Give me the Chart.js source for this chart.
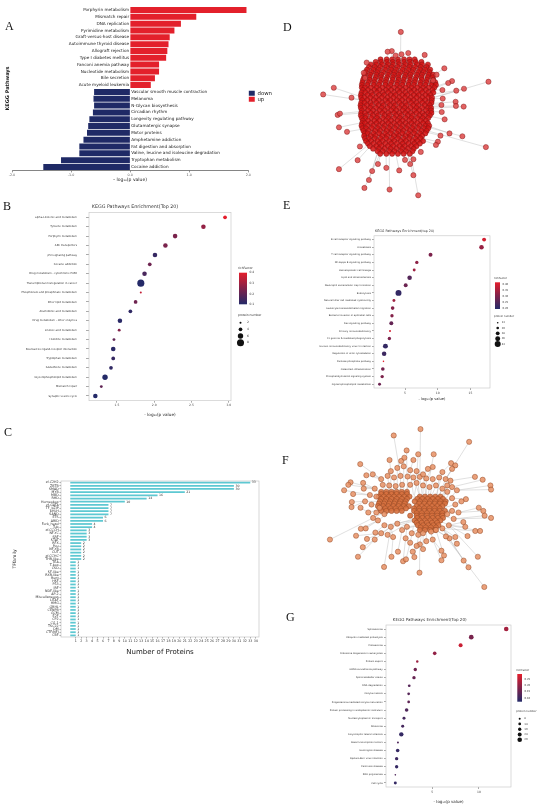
<!DOCTYPE html>
<html>
<head>
<meta charset="utf-8">
<title>KEGG / TF / PPI figure</title>
<script src="https://cdn.jsdelivr.net/npm/chart.js@4.4.1/dist/chart.umd.min.js"></script>
<style>
  body { margin: 0; background: #fff; }
  #page { position: relative; width: 550px; height: 808px; overflow: hidden; background: #fff; }
  canvas { position: absolute; }
  .letter { position: absolute; font-family: "Liberation Serif", "DejaVu Serif", serif; font-size: 12px; line-height: 12px; color: #111; }
</style>
</head>
<body>
<div id="page">
  <canvas id="chartA" width="282" height="186" style="left:0;top:0"></canvas>
  <canvas id="chartB" width="275" height="222" style="left:0;top:200px"></canvas>
  <canvas id="chartC" width="275" height="190" style="left:0;top:470px"></canvas>
  <canvas id="chartD" width="270" height="210" style="left:280px;top:0"></canvas>
  <canvas id="chartE" width="270" height="185" style="left:280px;top:222px"></canvas>
  <canvas id="chartF" width="270" height="200" style="left:280px;top:395px"></canvas>
  <canvas id="chartG" width="270" height="200" style="left:280px;top:608px"></canvas>
  <div class="letter" style="left:5px;top:20px">A</div>
  <div class="letter" style="left:3px;top:200px">B</div>
  <div class="letter" style="left:4px;top:426px">C</div>
  <div class="letter" style="left:283px;top:21px">D</div>
  <div class="letter" style="left:283px;top:199px">E</div>
  <div class="letter" style="left:282px;top:454px">F</div>
  <div class="letter" style="left:286px;top:611px">G</div>
</div>
<script>
// ---------- Datos panel A (up / down) ----------
const aLabels = ["Porphyrin metabolism", "Mismatch repair", "DNA replication", "Pyrimidine metabolism",
  "Graft-versus-host disease", "Autoimmune thyroid disease", "Allograft rejection", "Type I diabetes mellitus",
  "Fanconi anemia pathway", "Nucleotide metabolism", "Bile secretion", "Acute myeloid leukemia",
  "Vascular smooth muscle contraction", "Melanoma", "N-Glycan biosynthesis", "Circadian rhythm",
  "Longevity regulating pathway", "Glutamatergic synapse", "Motor proteins", "Amphetamine addiction",
  "Fat digestion and absorption", "Valine, leucine and isoleucine degradation", "Tryptophan metabolism", "Cocaine addiction"];
const aValues = [1.97, 1.12, 0.86, 0.75, 0.67, 0.65, 0.63, 0.61, 0.49, 0.49, 0.42, 0.35,
  -0.61, -0.62, -0.61, -0.63, -0.69, -0.71, -0.73, -0.79, -0.86, -0.86, -1.17, -1.47];
const aTicks = [-2, -1, 0, 1, 2];

// ---------- Datos panel B ----------
const bLabels = ["alpha-Linolenic acid metabolism", "Tyrosine metabolism", "Porphyrin metabolism", "ABC transporters",
  "p53 signaling pathway", "Cocaine addiction", "Drug metabolism - cytochrome P450", "Transcriptional misregulation in cancer",
  "Phosphonate and phosphinate metabolism", "Ether lipid metabolism", "Arachidonic acid metabolism", "Drug metabolism - other enzymes",
  "Linoleic acid metabolism", "Histidine metabolism", "Neuroactive ligand-receptor interaction", "Tryptophan metabolism",
  "Glutathione metabolism", "Glycerophospholipid metabolism", "Mismatch repair", "Synaptic vesicle cycle"];
const bLogP = [2.95, 2.66, 2.28, 2.15, 2.01, 1.94, 1.87, 1.82, 1.82, 1.75, 1.68, 1.54, 1.53, 1.46, 1.45, 1.45, 1.42, 1.34, 1.29, 1.21];
const bRich = [0.40, 0.28, 0.24, 0.24, 0.13, 0.22, 0.16, 0.10, 0.35, 0.22, 0.12, 0.11, 0.25, 0.20, 0.11, 0.13, 0.12, 0.10, 0.20, 0.10];
const bCount = [4, 5, 5, 5, 5, 4, 5, 8, 2, 4, 4, 5, 3, 3, 5, 4, 4, 6, 3, 5];
const bTicks = [1.5, 2.0, 2.5, 3.0];
const bRichTicks = [0.1, 0.2, 0.3, 0.4];
const bSizeTicks = [2, 4, 6, 8];

// ---------- Datos panel C ----------
const cLabels = ["zf-C2H2", "ZBTB", "SMAD", "MYB", "MBD", "RHD", "Homeobox", "zf-GATA", "TF_bZIP", "bHLH", "SAND", "ETS",
  "ARID", "Fork_head", "Tub", "zf-CCCH", "NF-YC", "SRF", "STAT", "RFX", "Pou", "NF-YB", "CUT", "zf-CCHC", "THR-like",
  "TEA", "T-box", "CSD", "SF-like", "RXR-like", "Runt", "HSF", "P53", "IRF", "NDF-like", "AP-2", "Miscellaneous",
  "LITAF", "HMG", "GRHL", "CENPB", "GCM", "E2F", "CP2", "CG-1", "TSC22", "DM", "CTF/NFI", "CBF"];
const cCounts = [33, 30, 30, 21, 16, 14, 10, 7, 7, 7, 7, 6, 6, 4, 4, 3, 3, 3, 3, 2, 2, 2, 2, 2, 2,
  1, 1, 1, 1, 1, 1, 1, 1, 1, 1, 1, 1, 1, 1, 1, 1, 1, 1, 1, 1, 1, 1, 1, 1];
const cTicks = [1, 2, 3, 4, 5, 6, 7, 8, 9, 10, 11, 12, 13, 14, 15, 16, 17, 18, 19, 20, 21, 22, 23, 24, 25,
  26, 27, 28, 29, 30, 31, 32, 33, 34];

// ---------- Datos panel E ----------
const eLabels = ["B cell receptor signaling pathway", "Amoebiasis", "T cell receptor signaling pathway", "NF-kappa B signaling pathway",
  "Hematopoietic cell lineage", "Lipid and atherosclerosis", "Neutrophil extracellular trap formation", "Endocytosis",
  "Natural killer cell mediated cytotoxicity", "Leukocyte transendothelial migration", "Bacterial invasion of epithelial cells",
  "Ras signaling pathway", "Primary immunodeficiency", "Fc gamma R-mediated phagocytosis", "Human immunodeficiency virus 1 infection",
  "Regulation of actin cytoskeleton", "Pentose phosphate pathway", "Osteoclast differentiation", "Phosphatidylinositol signaling system",
  "Glycerophospholipid metabolism"];
const eLogP = [17.1, 16.7, 8.9, 6.8, 6.4, 5.7, 5.1, 4.0, 3.3, 3.1, 3.0, 2.9, 2.7, 2.6, 2.0, 1.8, 1.7, 1.6, 1.5, 1.1];
const eRich = [0.40, 0.33, 0.30, 0.32, 0.34, 0.25, 0.28, 0.21, 0.34, 0.31, 0.31, 0.27, 0.40, 0.30, 0.21, 0.22, 0.42, 0.29, 0.30, 0.28];
const eCount = [29, 33, 29, 25, 22, 33, 29, 43, 22, 27, 25, 29, 16, 25, 36, 33, 13, 27, 25, 22];
const eTicks = [5, 10, 15];
const eRichTicks = [0.20, 0.25, 0.30, 0.35, 0.40];
const eSizeTicks = [13, 20, 28, 36, 43];

// ---------- Datos panel G ----------
const gLabels = ["Spliceosome", "Ubiquitin mediated proteolysis", "Proteasome", "Ribosome biogenesis in eukaryotes",
  "Protein export", "mRNA surveillance pathway", "Spinocerebellar ataxia", "RNA degradation", "Oocyte meiosis",
  "Progesterone-mediated oocyte maturation", "Protein processing in endoplasmic reticulum", "Nucleocytoplasmic transport",
  "Ribosome", "Amyotrophic lateral sclerosis", "Basal transcription factors", "Huntington disease",
  "Epstein-Barr virus infection", "Parkinson disease", "RNA polymerase", "Cell cycle"];
const gLogP = [12.93, 9.18, 8.04, 5.26, 3.39, 3.18, 3.04, 2.53, 2.47, 2.47, 2.25, 1.97, 1.83, 1.68, 1.32, 1.29, 1.18, 1.18, 1.04, 1.04];
const gRich = [0.22, 0.17, 0.26, 0.20, 0.21, 0.16, 0.15, 0.13, 0.13, 0.14, 0.12, 0.11, 0.11, 0.09, 0.12, 0.09, 0.10, 0.09, 0.12, 0.09];
const gCount = [29, 30, 24, 21, 12, 19, 19, 14, 14, 14, 21, 16, 16, 27, 8, 21, 19, 19, 5, 16];
const gTicks = [5, 10];
const gRichTicks = [0.10, 0.15, 0.20, 0.25];
const gSizeTicks = [8, 14, 19, 24, 29];

// ---------- Redes D y F (coordenadas) ----------
// nodos del nucleo por filas: [y, [x...]]
const dCoreRows = [
  [172, [298, 317, 334, 352, 371, 388, 404]],
  [180, [283, 300, 318, 336, 353, 371, 389, 407, 425]],
  [188, [268, 285, 303, 321, 337, 356, 375, 391, 411, 427, 445]],
  [196, [262, 280, 297, 316, 333, 351, 370, 388, 405, 423, 441]],
  [204, [256, 276, 292, 312, 330, 346, 366, 384, 400, 420, 436, 452]],
  [212, [252, 270, 288, 306, 325, 342, 360, 378, 396, 415, 432, 450]],
  [220, [249, 266, 285, 301, 321, 339, 355, 375, 391, 411, 427, 447, 461]],
  [228, [247, 264, 283, 299, 318, 336, 353, 372, 389, 408, 425, 444, 460]],
  [236, [244, 264, 280, 300, 316, 336, 354, 370, 390, 406, 426, 442, 462]],
  [244, [242, 260, 278, 296, 314, 332, 350, 368, 386, 404, 422, 440, 458, 468]],
  [252, [240, 257, 277, 293, 313, 329, 349, 365, 385, 401, 421, 437, 457, 470]],
  [260, [240, 250, 268, 286, 304, 322, 340, 358, 376, 394, 412, 430, 448, 465]],
  [268, [243, 259, 279, 295, 315, 331, 351, 367, 387, 403, 423, 439, 459]],
  [276, [239, 251, 269, 287, 305, 322, 340, 357, 375, 393, 411, 428, 446, 462]],
  [284, [237, 257, 273, 293, 309, 329, 345, 365, 381, 401, 417, 437, 453]],
  [292, [238, 248, 266, 284, 302, 320, 338, 356, 374, 392, 410, 428, 446, 458]],
  [300, [241, 257, 277, 293, 313, 329, 349, 365, 385, 401, 421, 437, 457]],
  [308, [238, 249, 267, 285, 303, 321, 339, 357, 375, 393, 410, 428, 445, 456]],
  [316, [236, 255, 271, 291, 307, 327, 343, 363, 379, 399, 415, 435, 451]],
  [324, [237, 248, 266, 284, 302, 320, 338, 356, 373, 391, 409, 427, 445, 455]],
  [332, [240, 259, 275, 295, 311, 331, 347, 367, 383, 403, 419, 439, 455]],
  [340, [238, 250, 268, 286, 304, 322, 340, 357, 375, 392, 410, 428, 446, 456]],
  [348, [237, 254, 274, 290, 310, 326, 346, 362, 382, 398, 418, 434, 451]],
  [356, [240, 251, 269, 287, 305, 322, 340, 358, 376, 394, 412, 429, 446]],
  [364, [243, 259, 279, 295, 315, 331, 351, 367, 387, 403, 423, 439]],
  [372, [241, 250, 268, 286, 304, 322, 340, 358, 376, 394, 412, 430, 445]],
  [380, [239, 257, 275, 293, 311, 329, 347, 365, 383, 401, 419, 437, 449]],
  [388, [242, 253, 271, 289, 307, 325, 343, 361, 379, 397, 415, 433, 446]],
  [396, [245, 261, 281, 297, 317, 333, 353, 369, 389, 405, 425, 441]],
  [404, [249, 258, 276, 294, 312, 330, 348, 366, 384, 402, 420, 437]],
  [412, [247, 267, 283, 303, 319, 339, 355, 375, 391, 411, 427]],
  [420, [250, 262, 280, 298, 316, 334, 352, 370, 388, 406, 422]],
  [428, [253, 269, 289, 305, 325, 341, 361, 377, 397, 413, 430]],
  [436, [259, 277, 295, 313, 331, 349, 367, 385, 403, 420]],
  [444, [265, 285, 301, 321, 337, 357, 373, 393, 409]],
  [452, [275, 293, 311, 329, 347, 365, 383, 401]],
  [460, [289, 305, 325, 341, 361, 377, 397]],
  [468, [297, 316, 334, 352, 370, 389]]
];
// nodos perifericos: [x, y, xDestino, yDestino]
const dOuter = [
  [361, 86, 360, 172], [333, 146, 335, 188], [320, 148, 320, 190], [345, 160, 345, 180], [363, 156, 365, 175],
  [384, 152, 380, 180], [435, 158, 420, 195], [255, 182, 275, 200], [496, 200, 450, 230], [633, 242, 470, 290],
  [520, 240, 460, 260], [508, 246, 460, 265], [557, 264, 465, 290], [533, 270, 465, 280], [153, 261, 240, 290],
  [120, 282, 240, 300], [208, 292, 240, 300], [531, 305, 460, 310], [532, 318, 460, 320], [556, 320, 460, 325],
  [488, 337, 455, 335], [497, 360, 450, 350], [165, 346, 240, 340], [172, 342, 240, 335], [169, 385, 242, 370],
  [194, 399, 245, 390], [512, 404, 445, 380], [552, 413, 445, 385], [625, 447, 440, 395], [484, 411, 440, 400],
  [476, 430, 430, 420], [470, 440, 430, 425], [234, 445, 260, 420], [227, 488, 270, 440], [169, 516, 260, 440],
  [272, 522, 290, 460], [262, 550, 290, 460], [248, 575, 300, 460], [326, 580, 325, 465], [356, 520, 345, 465],
  [316, 512, 315, 465], [400, 535, 380, 460], [415, 598, 390, 460], [390, 500, 380, 460], [374, 487, 370, 465],
  [400, 485, 390, 460], [423, 462, 410, 440], [290, 500, 300, 465], [246, 214, 265, 220], [250, 230, 265, 235],
  [461, 238, 450, 240], [472, 220, 450, 225], [490, 268, 465, 268], [491, 295, 460, 295], [487, 315, 460, 315]
];

const fCoreRows = [
  [290, [300, 316, 332, 348, 364, 380]],
  [297, [300, 316, 332, 348, 364, 380]],
  [305, [292, 308, 324, 340, 356, 372, 388, 420, 436, 452, 468, 484]],
  [312, [300, 316, 332, 348, 364, 380, 412, 428, 444, 460, 476, 492]],
  [320, [296, 312, 328, 344, 360, 376, 404, 420, 436, 452, 468, 484, 500]],
  [327, [293, 309, 325, 341, 357, 373, 418, 434, 450, 466, 482, 498]],
  [335, [290, 306, 322, 338, 354, 370, 386, 410, 426, 442, 458, 474, 490]],
  [342, [297, 313, 329, 345, 361, 377, 402, 418, 434, 450, 466, 482]],
  [350, [300, 316, 332, 348, 364, 402, 418, 434, 450, 466, 482, 498]],
  [357, [410, 426, 442, 458, 474, 490]],
  [365, [390, 410, 426, 442, 458, 474, 490]],
  [372, [412, 428, 444, 460, 476, 492]],
  [380, [404, 420, 436, 452, 468, 484]],
  [387, [410, 426, 442, 458, 474]],
  [395, [414, 430, 446, 462, 478]],
  [402, [422, 438, 454, 470]],
  [410, [420, 436, 452, 468]]
];
const fMid = [
  [300, 250, 330, 320], [320, 240, 330, 320], [340, 245, 340, 300], [360, 240, 360, 300], [382, 242, 380, 300],
  [400, 245, 420, 305], [420, 243, 430, 320], [440, 248, 440, 320], [460, 250, 450, 320], [480, 245, 470, 320],
  [500, 250, 470, 330], [515, 255, 480, 330], [330, 225, 330, 290], [350, 215, 350, 290], [370, 210, 370, 290],
  [390, 222, 400, 300], [410, 225, 420, 310], [430, 235, 440, 310], [490, 228, 470, 310], [505, 270, 480, 320],
  [520, 275, 490, 335], [535, 285, 490, 340], [280, 280, 320, 310], [265, 300, 310, 320], [270, 330, 310, 330],
  [260, 355, 320, 340], [275, 372, 330, 345], [290, 380, 330, 350], [310, 395, 400, 380], [330, 400, 410, 380],
  [350, 390, 420, 370], [365, 410, 430, 390], [380, 400, 420, 395], [395, 420, 430, 400], [415, 425, 440, 400],
  [430, 420, 440, 395], [455, 415, 450, 395], [470, 410, 460, 390], [490, 405, 470, 380], [510, 395, 480, 380],
  [525, 375, 490, 365], [540, 355, 500, 350], [530, 330, 495, 340], [520, 310, 490, 330], [505, 290, 480, 320],
  [490, 280, 470, 320], [470, 270, 450, 320], [450, 275, 440, 330], [430, 270, 430, 320], [410, 262, 400, 320],
  [390, 268, 350, 320], [365, 268, 340, 310], [345, 272, 330, 300], [325, 270, 320, 300], [305, 268, 310, 305],
  [285, 305, 310, 320], [295, 340, 320, 330], [310, 360, 330, 345], [285, 355, 310, 340], [250, 320, 300, 320],
  [520, 350, 490, 350], [505, 360, 480, 360], [300, 420, 360, 380], [320, 425, 380, 390], [280, 440, 330, 400],
  [460, 440, 450, 400], [440, 445, 440, 400], [420, 455, 430, 400], [390, 450, 400, 400], [430, 470, 430, 400],
  [410, 460, 420, 410]
];
const fOuter = [
  [422, 93, 420, 250], [339, 113, 360, 240], [573, 133, 500, 250], [379, 160, 380, 240], [415, 172, 410, 240],
  [463, 172, 450, 245], [326, 190, 330, 225], [362, 193, 350, 215], [372, 183, 370, 210], [400, 190, 390, 222],
  [235, 203, 300, 250], [517, 200, 490, 228], [530, 207, 500, 250], [520, 218, 500, 250], [445, 218, 430, 235],
  [460, 212, 440, 248], [254, 238, 300, 250], [274, 235, 300, 250], [591, 243, 515, 255], [615, 252, 520, 275],
  [639, 270, 535, 285], [641, 283, 535, 285], [205, 260, 280, 280], [198, 268, 280, 280], [185, 285, 265, 300],
  [213, 297, 265, 300], [244, 262, 280, 280], [246, 280, 280, 280], [563, 313, 520, 310], [549, 320, 530, 330],
  [209, 322, 250, 320], [208, 338, 250, 320], [236, 340, 260, 355], [603, 340, 540, 355], [617, 350, 540, 355],
  [621, 365, 525, 375], [641, 372, 525, 375], [555, 385, 510, 395], [561, 400, 510, 395], [592, 413, 490, 405],
  [607, 413, 510, 395], [237, 406, 290, 380], [252, 405, 290, 380], [222, 428, 300, 420], [256, 438, 300, 420],
  [282, 418, 310, 395], [243, 464, 280, 440], [141, 440, 275, 372], [228, 494, 280, 440], [309, 526, 330, 400],
  [332, 494, 337, 432], [352, 478, 365, 410], [368, 508, 376, 436], [377, 502, 390, 450], [403, 495, 410, 460],
  [398, 478, 410, 460], [419, 544, 420, 455], [487, 505, 460, 440], [495, 490, 470, 410], [487, 475, 460, 440],
  [535, 453, 490, 405], [556, 506, 490, 405], [571, 527, 490, 405], [600, 494, 510, 395], [620, 589, 500, 430],
  [568, 429, 510, 395], [530, 432, 490, 405], [512, 436, 470, 410], [501, 430, 470, 410], [337, 432, 330, 400],
  [376, 436, 380, 400]
];

// ---------- Ajustes generales ----------
Chart.defaults.font.family = "'DejaVu Sans', sans-serif";
Chart.defaults.color = '#333';
Chart.defaults.animation = false;
Chart.defaults.responsive = false;
Chart.defaults.events = [];
Chart.defaults.plugins.tooltip.enabled = false;

const RICH_STOPS = [[36, 42, 104], [128, 34, 74], [228, 30, 44]];
const richColor = (t) => {
  t = Math.max(0, Math.min(1, t));
  const s = t < 0.5 ? 0 : 1;
  const u = t < 0.5 ? t * 2 : (t - 0.5) * 2;
  const a = RICH_STOPS[s], b = RICH_STOPS[s + 1];
  return `rgb(${a.map((c, k) => Math.round(c + (b[k] - c) * u)).join(',')})`;
};
const px = (size) => `${size}px 'DejaVu Sans', sans-serif`;

// marco gris alrededor del area del grafico
const framePlugin = {
  id: 'frame',
  beforeDatasetsDraw(chart, args, opts) {
    const { ctx, chartArea: a } = chart;
    ctx.save();
    ctx.strokeStyle = opts.color || '#bbb';
    ctx.lineWidth = opts.width || 0.6;
    ctx.strokeRect(a.left, a.top, a.right - a.left, a.bottom - a.top);
    ctx.restore();
  }
};

// ---------- Panel A ----------
const aPathLabels = {
  id: 'aPathLabels',
  afterDatasetsDraw(chart) {
    const { ctx, scales: { x, y } } = chart;
    const x0 = x.getPixelForValue(0);
    ctx.save();
    ctx.font = px(4.2);
    ctx.fillStyle = '#222';
    ctx.textBaseline = 'middle';
    aLabels.forEach((t, i) => {
      const yy = y.getPixelForValue(i);
      if (aValues[i] > 0) { ctx.textAlign = 'right'; ctx.fillText(t, x0 - 1, yy); }
      else { ctx.textAlign = 'left'; ctx.fillText(t, x0 + 1, yy); }
    });
    ctx.restore();
  }
};

new Chart(document.getElementById('chartA'), {
  type: 'bar',
  data: {
    labels: aLabels,
    datasets: [
      { label: 'down', data: aValues.map(v => (v < 0 ? v : null)), backgroundColor: '#1f2a66', grouped: false, barPercentage: 0.88, categoryPercentage: 1 },
      { label: 'up', data: aValues.map(v => (v > 0 ? v : null)), backgroundColor: '#e3202b', grouped: false, barPercentage: 0.88, categoryPercentage: 1 }
    ]
  },
  options: {
    indexAxis: 'y',
    layout: { padding: { top: 6.6, right: 0, left: 0, bottom: 0 } },
    plugins: {
      legend: { position: 'right', labels: { boxWidth: 6, boxHeight: 5, padding: 0.5, font: { size: 5.4 }, color: '#222' } }
    },
    scales: {
      x: {
        min: -2, max: 2,
        afterBuildTicks: s => { s.ticks = aTicks.map(v => ({ value: v })); },
        ticks: { font: { size: 3.3 }, color: '#555', padding: 1, callback: v => v.toFixed(1) },
        grid: { drawOnChartArea: false, tickLength: 2, color: '#333', lineWidth: 0.5 },
        border: { display: true, color: '#333', width: 0.6 },
        title: { display: true, text: '- log₁₀(p value)', font: { size: 4.5 }, color: '#222', padding: { top: 0, bottom: 3.4 } },
        afterFit: s => { s.height = 15.6; }
      },
      y: {
        ticks: { display: false },
        grid: { display: false },
        border: { display: false },
        title: { display: true, text: 'KEGG Pathways', font: { size: 5, weight: 'bold' }, color: '#222', padding: { top: 5, bottom: 0 } },
        afterFit: s => { s.width = 12; }
      }
    }
  },
  plugins: [aPathLabels]
});

// ---------- Paneles B, E, G (burbujas de enriquecimiento) ----------
const dotExtras = {
  id: 'dotExtras',
  afterDraw(chart, args, o) {
    const ctx = chart.ctx;
    ctx.save();
    ctx.fillStyle = '#333';
    ctx.textAlign = 'center';
    ctx.textBaseline = 'middle';
    ctx.font = px(o.titleSize);
    ctx.fillText(o.title, o.titleX, o.titleY);

    // barra de color richFactor
    const g = ctx.createLinearGradient(0, o.cbY, 0, o.cbY + o.cbH);
    g.addColorStop(0, richColor(1));
    g.addColorStop(0.5, richColor(0.5));
    g.addColorStop(1, richColor(0));
    ctx.fillStyle = g;
    ctx.fillRect(o.cbX, o.cbY, o.cbW, o.cbH);
    ctx.textAlign = 'left';
    ctx.font = px(o.legSize);
    ctx.fillStyle = '#333';
    ctx.fillText('richFactor', o.cbX - 1, o.cbY - 4);
    o.richTicks.forEach(v => {
      const yy = o.cbY + o.cbH * (o.cbar[1] - v) / (o.cbar[1] - o.cbar[0]);
      ctx.fillText(v.toFixed(o.richDigits), o.cbX + o.cbW + 2.5, yy);
    });

    // leyenda de tamanos
    ctx.fillText('protein number', o.cbX - 1, o.szTitleY);
    o.sizeTicks.forEach((n, k) => {
      const yy = o.szY + k * o.szStep;
      ctx.beginPath();
      ctx.arc(o.szX, yy, o.r0 + o.rk * n, 0, Math.PI * 2);
      ctx.fillStyle = '#111';
      ctx.fill();
      ctx.fillStyle = '#333';
      ctx.fillText(String(n), o.szLabX, yy);
    });
    ctx.restore();
  }
};

function dotPlot(id, d, s) {
  const span = d.cbar[1] - d.cbar[0];
  new Chart(document.getElementById(id), {
    type: 'scatter',
    data: {
      datasets: [{
        data: d.logP.map((v, i) => ({ x: v, y: d.labels[i] })),
        pointRadius: d.count.map(n => s.r0 + s.rk * n),
        backgroundColor: d.rich.map(v => richColor((v - d.cbar[0]) / span)),
        borderWidth: 0
      }]
    },
    options: {
      layout: { padding: { top: s.top, right: s.right, left: 0, bottom: 0 } },
      plugins: {
        legend: { display: false },
        frame: { color: '#c4c4c4', width: 0.6 },
        dotExtras: Object.assign({ cbar: d.cbar, richTicks: d.richTicks, sizeTicks: d.sizeTicks, r0: s.r0, rk: s.rk }, s.extras)
      },
      scales: {
        x: {
          type: 'linear', min: d.xMin, max: d.xMax,
          afterBuildTicks: sc => { sc.ticks = d.xTicks.map(v => ({ value: v })); },
          ticks: { font: { size: s.xTickSize }, color: '#444', padding: 1, callback: v => v.toFixed(d.xDigits) },
          grid: { drawOnChartArea: false, tickLength: 2, color: '#555', lineWidth: 0.5 },
          border: { display: false },
          title: { display: true, text: '- log₁₀(p value)', font: { size: s.xTitleSize }, color: '#222', padding: { top: 0, bottom: s.xTitlePad } },
          afterFit: sc => { sc.height = s.xH; }
        },
        y: {
          type: 'category', labels: d.labels, offset: true,
          ticks: { autoSkip: false, font: { size: s.yTickSize }, color: '#333', padding: s.yPad },
          grid: { drawOnChartArea: false, tickLength: s.yTick, color: '#555', lineWidth: 0.5 },
          border: { display: false },
          afterFit: sc => { sc.width = s.left; }
        }
      }
    },
    plugins: [framePlugin, dotExtras]
  });
}

dotPlot('chartB',
  { labels: bLabels, logP: bLogP, rich: bRich, count: bCount, cbar: [0.1, 0.4], xMin: 1.125, xMax: 3.03, xTicks: bTicks, xDigits: 1, richTicks: bRichTicks, sizeTicks: bSizeTicks },
  { top: 12.6, right: 44, left: 89, xH: 21.3, r0: 0.17, rk: 0.42, xTickSize: 3, xTitleSize: 4.2, xTitlePad: 4.5, yTickSize: 2.6, yPad: 9, yTick: 3,
    extras: { title: 'KEGG Pathways Enrichment(Top 20)', titleX: 135, titleY: 7, titleSize: 4.8, legSize: 3,
      cbX: 239, cbY: 72.7, cbW: 8, cbH: 31.6, richDigits: 1, szTitleY: 115, szY: 122.7, szStep: 6.67, szX: 240.5, szLabX: 247 } });

dotPlot('chartE',
  { labels: eLabels, logP: eLogP, rich: eRich, count: eCount, cbar: [0.19, 0.42], xMin: 0.25, xMax: 18.0, xTicks: eTicks, xDigits: 0, richTicks: eRichTicks, sizeTicks: eSizeTicks },
  { top: 13.8, right: 60, left: 94, xH: 19, r0: -0.15, rk: 0.073, xTickSize: 3, xTitleSize: 3.6, xTitlePad: 5.3, yTickSize: 2.4, yPad: 1, yTick: 2,
    extras: { title: 'KEGG Pathways Enrichment(top 20)', titleX: 124.7, titleY: 9, titleSize: 3.3, legSize: 2.6,
      cbX: 215, cbY: 60.3, cbW: 5, cbH: 26.7, richDigits: 2, szTitleY: 94.7, szY: 100.7, szStep: 5.33, szX: 217.7, szLabX: 221.7 } });

dotPlot('chartG',
  { labels: gLabels, logP: gLogP, rich: gRich, count: gCount, cbar: [0.07, 0.29], xMin: 0.04, xMax: 13.44, xTicks: gTicks, xDigits: 0, richTicks: gRichTicks, sizeTicks: gSizeTicks },
  { top: 17, right: 39, left: 106, xH: 21, r0: 0.5, rk: 0.062, xTickSize: 3, xTitleSize: 4, xTitlePad: 3.9, yTickSize: 2.4, yPad: 1.3, yTick: 2,
    extras: { title: 'KEGG Pathways Enrichment(Top 20)', titleX: 149.7, titleY: 12, titleSize: 4.1, legSize: 2.6,
      cbX: 237.3, cbY: 66, cbW: 4.7, cbH: 27.7, richDigits: 2, szTitleY: 103.7, szY: 110.7, szStep: 5.25, szX: 239.7, szLabX: 244.3 } });

// ---------- Panel C ----------
const cValueLabels = {
  id: 'cValueLabels',
  afterDatasetsDraw(chart) {
    const { ctx, scales: { x, y } } = chart;
    ctx.save();
    ctx.font = px(3.2);
    ctx.fillStyle = '#333';
    ctx.textAlign = 'left';
    ctx.textBaseline = 'middle';
    cCounts.forEach((v, i) => ctx.fillText(String(v), x.getPixelForValue(v) + 1.5, y.getPixelForValue(i)));
    ctx.restore();
  }
};

new Chart(document.getElementById('chartC'), {
  type: 'bar',
  data: { labels: cLabels, datasets: [{ data: cCounts, backgroundColor: '#5ec8d2', barPercentage: 0.55, categoryPercentage: 1 }] },
  options: {
    indexAxis: 'y',
    layout: { padding: { top: 11, right: 16, left: 0, bottom: 0 } },
    plugins: { legend: { display: false }, frame: { color: '#bdbdbd', width: 0.6 } },
    scales: {
      x: {
        type: 'linear', min: -1.7, max: 34.6,
        afterBuildTicks: s => { s.ticks = cTicks.map(v => ({ value: v })); },
        ticks: { autoSkip: false, maxRotation: 0, font: { size: 3.3 }, color: '#333', padding: 1 },
        grid: { drawOnChartArea: false, tickLength: 1.5, color: '#555', lineWidth: 0.5 },
        border: { display: false },
        title: { display: true, text: 'Number of Proteins', font: { size: 7 }, color: '#222', padding: { top: 0, bottom: 3.8 } },
        afterFit: s => { s.height = 23; }
      },
      y: {
        ticks: { autoSkip: false, font: { size: 3.3 }, color: '#333', padding: 0.8 },
        grid: { drawOnChartArea: false, offset: false, tickLength: 1.5, color: '#555', lineWidth: 0.5 },
        border: { display: false },
        title: { display: true, text: 'TFfamily', font: { size: 4.5 }, color: '#222', padding: { top: 12.3, bottom: 0 } },
        afterFit: s => { s.width = 61; }
      }
    }
  },
  plugins: [framePlugin, cValueLabels]
});

// ---------- Paneles D y F (redes PPI) ----------
const edgePlugin = {
  id: 'edges',
  beforeDatasetsDraw(chart, args, opts) {
    const { ctx, scales: { x, y } } = chart;
    ctx.save();
    ctx.strokeStyle = opts.color;
    ctx.lineWidth = 0.6;
    ctx.beginPath();
    opts.lines.forEach(([x1, y1, x2, y2]) => {
      ctx.moveTo(x.getPixelForValue(x1), y.getPixelForValue(y1));
      ctx.lineTo(x.getPixelForValue(x2), y.getPixelForValue(y2));
    });
    ctx.stroke();
    ctx.restore();
  }
};

// nucleo con color mas intenso, periferia mas clara
function network(id, coreRows, linked, yMax, st) {
  const nodes = [], fills = [];
  coreRows.forEach(([yy, xs]) => xs.forEach(xx => { nodes.push({ x: xx, y: yy }); fills.push(st.core); }));
  linked.forEach(([x1, y1]) => { nodes.push({ x: x1, y: y1 }); fills.push(st.outer); });
  new Chart(document.getElementById(id), {
    type: 'scatter',
    data: { datasets: [{ data: nodes, pointRadius: 2.6, backgroundColor: fills, borderColor: st.stroke, borderWidth: 0.5 }] },
    options: {
      layout: { padding: 0 },
      plugins: { legend: { display: false }, edges: { lines: linked, color: 'rgba(185,185,185,0.75)' } },
      scales: {
        x: { display: false, min: 0, max: 810 },
        y: { display: false, min: 0, max: yMax, reverse: true }
      }
    },
    plugins: [edgePlugin]
  });
}

network('chartD', dCoreRows, dOuter, 630, { core: 'rgba(212,22,22,0.88)', outer: 'rgba(222,72,72,0.85)', stroke: 'rgba(120,15,15,0.85)' });
network('chartF', fCoreRows, fMid.concat(fOuter), 600, { core: 'rgba(214,112,62,0.9)', outer: 'rgba(232,145,100,0.85)', stroke: 'rgba(140,65,28,0.9)' });
</script>
</body>
</html>
